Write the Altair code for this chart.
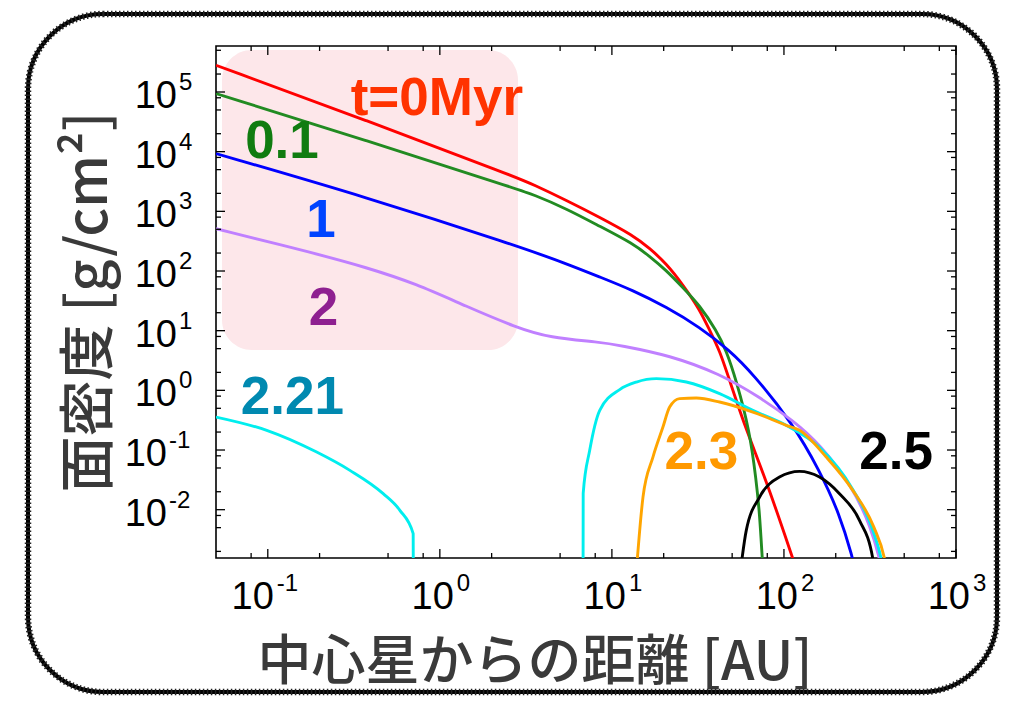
import altair as alt
import pandas as pd

# ---------------- data ----------------
# surface density curves (x: AU, y: g/cm^2)
t0_x = [0.05, 0.372, 2.76, 3.467, 5.44, 8.50, 13.26, 16.58, 20.72, 25.77, 32.35, 37.0, 42.27,
        48.3, 60.4, 78.9, 112.6, 118]
t0_y = [2.8e5, 3.36e4, 3760, 2838, 1530, 794, 396, 240, 133, 59.8, 22.8, 10.1, 4.68,
        1.47, 0.214, 0.031, 0.00153, 0.001]

t01_x = [0.05, 0.372, 2.76, 3.467, 5.44, 8.50, 13.26, 16.58, 20.72, 25.77, 32.35, 40.45, 46.2,
         52.8, 63.1, 69.0, 72.2, 74.8, 75.5]
t01_y = [9.4e4, 1.55e4, 2400, 1929, 1110, 561, 288, 176, 102.6, 53.3, 26.6, 10.1, 4.68,
         1.47, 0.214, 0.031, 0.0086, 0.00153, 0.001]

t1_x = [0.05, 0.372, 2.76, 5.44, 8.50, 13.26, 20.72, 32.35, 48.3, 65.96, 112.6, 160.9, 210.3,
        251.2, 258]
t1_y = [9290, 1740, 269, 133, 79.3, 47.5, 24.9, 11.5, 4.68, 1.905, 0.2765, 0.0456, 0.00857,
        0.00153, 0.001]

t2_x = [0.05, 0.19, 0.372, 0.726, 1.42, 2.76, 4.35, 8.5, 11.1, 21.7, 42.3, 72.2, 112.6, 160.9,
        251.2, 320, 359, 368]
t2_y = [513, 196, 115.3, 61.4, 25.6, 11.4, 7.6, 6.45, 5.68, 3.86, 1.9, 0.77, 0.314, 0.128,
        0.0239, 0.0051, 0.00153, 0.001]

t221a_x = [0.05, 0.0986, 0.1923, 0.300, 0.4686, 0.5857, 0.6998, 0.701]
t221a_y = [0.357, 0.2136, 0.0924, 0.0456, 0.01855, 0.00974, 0.00396, 0.001]

t221b_x = [6.80, 6.81, 7.43, 8.5, 11.1, 13.88, 18.13, 27.08, 42.27, 65.96, 103.1, 160.9, 251.2,
           324, 367, 378]
t221b_y = [0.001, 0.0188, 0.0987, 0.462, 1.03, 1.378, 1.571, 1.378, 0.88, 0.462, 0.259, 0.111,
           0.0219, 0.00505, 0.00153, 0.001]

t23_x = [13.9, 15.16, 17.32, 19.80, 21.66, 24.76, 30.95, 42.27, 65.96, 103.1, 123.1, 176.1,
         251.2, 333, 383.8, 395]
t23_y = [0.001, 0.01628, 0.0762, 0.2425, 0.525, 0.726, 0.743, 0.637, 0.433, 0.259, 0.2136,
         0.0762, 0.0211, 0.0051, 0.00153, 0.001]

t25_x = [56.0, 60.4, 72.2, 94.2, 123.1, 160.9, 210.3, 274.8, 328.2, 334]
t25_y = [0.001, 0.0045, 0.01628, 0.0352, 0.0439, 0.0352, 0.01855, 0.00662, 0.00153, 0.001]

series_names = ["t=0", "0.1", "1", "2", "2.21a", "2.21b", "2.3", "2.5"]
series_x = [t0_x, t01_x, t1_x, t2_x, t221a_x, t221b_x, t23_x, t25_x]
series_y = [t0_y, t01_y, t1_y, t2_y, t221a_y, t221b_y, t23_y, t25_y]
line_colors = ["#ff0000", "#228b22", "#0000ff", "#c080ff", "#00eeee", "#00eeee", "#ffa500", "#000000"]
line_interp = ["basis", "basis", "basis", "basis", "monotone", "monotone", "monotone", "monotone"]

# in-plot labels (anchor in data coordinates)
label_text = ["t=0Myr", "0.1", "1", "2", "2.21", "2.3", "2.5"]
label_x = [0.961, 0.1209, 0.2037, 0.2106, 0.139, 33.1, 449]
label_y = [4.07e4, 7.95e3, 371, 12.3, 0.407, 0.0487, 0.0487]
label_colors = ["#ff3300", "#107c10", "#0044ff", "#8e2090", "#0089b0", "#ff9900", "#000000"]

# axes
x_major = [0.1, 1, 10, 100, 1000]
x_exp = [-1, 0, 1, 2, 3]
x_minor = [0.08, 0.2, 0.5, 0.8, 2, 5, 8, 20, 50, 80, 200, 500, 800]
y_major = [1e-2, 1e-1, 1, 10, 100, 1e3, 1e4, 1e5]
y_exp = [-2, -1, 0, 1, 2, 3, 4, 5]
y_minor = [2e-3, 5e-3, 8e-3, 2e-2, 5e-2, 8e-2, 0.2, 0.5, 0.8, 2, 5, 8, 20, 50, 80,
           200, 500, 800, 2e3, 5e3, 8e3, 2e4, 5e4, 8e4, 2e5, 5e5]

x_title = "中心星からの距離 [AU]"
y_title = "面密度 [g/cm²]"

# ---------------- chart ----------------
W, H = 740, 512
XS = alt.Scale(type="log", domain=[0.05, 1000], nice=False, zero=False)
YS = alt.Scale(type="log", domain=[1.55e-3, 5.9e5], nice=False, zero=False)
one = pd.DataFrame({"a": [0]})
TICK_FONT = "Liberation Sans"

layers = []

# pink rounded box
layers.append(alt.Chart(one).mark_rect(cornerRadius=30, fill="#fde7ea").encode(
    x=alt.value(6), x2=alt.value(302), y=alt.value(4), y2=alt.value(304)))

# curves
for name, xs_, ys_, col, ip in zip(series_names, series_x, series_y, line_colors, line_interp):
    d = pd.DataFrame({"x": xs_, "y": ys_, "i": list(range(len(xs_)))})
    layers.append(alt.Chart(d).mark_line(strokeWidth=2.9, clip=True, interpolate=ip,
                                         color=col).encode(
        x=alt.X("x:Q", scale=XS, axis=None),
        y=alt.Y("y:Q", scale=YS, axis=None),
        order="i:Q"))

# ticks (inward, on all four sides)
xmaj = pd.DataFrame({"x": x_major})
xmin = pd.DataFrame({"x": x_minor})
ymaj = pd.DataFrame({"y": y_major})
ymin = pd.DataFrame({"y": y_minor})
for dfx, L in [(xmaj, 9), (xmin, 5)]:
    layers.append(alt.Chart(dfx).mark_rule(color="black", strokeWidth=1.3).encode(
        x=alt.X("x:Q", scale=XS, axis=None), y=alt.value(H), y2=alt.value(H - L)))
    layers.append(alt.Chart(dfx).mark_rule(color="black", strokeWidth=1.3).encode(
        x=alt.X("x:Q", scale=XS, axis=None), y=alt.value(0), y2=alt.value(L)))
for dfy, L in [(ymaj, 9), (ymin, 5)]:
    layers.append(alt.Chart(dfy).mark_rule(color="black", strokeWidth=1.3).encode(
        y=alt.Y("y:Q", scale=YS, axis=None), x=alt.value(0), x2=alt.value(L)))
    layers.append(alt.Chart(dfy).mark_rule(color="black", strokeWidth=1.3).encode(
        y=alt.Y("y:Q", scale=YS, axis=None), x=alt.value(W), x2=alt.value(W - L)))

# tick labels: "10" plus superscript exponent
xl = pd.DataFrame({"x": x_major, "e": x_exp})
yl = pd.DataFrame({"y": y_major, "e": y_exp})
for cond, dxb in [("datum.e >= 0", 14), ("datum.e < 0", 6)]:
    base = alt.Chart(xl).transform_filter(cond)
    layers.append(base.mark_text(font=TICK_FONT, fontSize=38, align="right",
                                 baseline="alphabetic", dx=dxb, color="black").encode(
        x=alt.X("x:Q", scale=XS, axis=None), y=alt.value(563), text=alt.value("10")))
    layers.append(base.mark_text(font=TICK_FONT, fontSize=24, align="left",
                                 baseline="alphabetic", dx=dxb + 3, color="black").encode(
        x=alt.X("x:Q", scale=XS, axis=None), y=alt.value(545), text="e:N"))
for cond, xb in [("datum.e >= 0", -39), ("datum.e < 0", -49)]:
    base = alt.Chart(yl).transform_filter(cond)
    layers.append(base.mark_text(font=TICK_FONT, fontSize=38, align="right",
                                 baseline="alphabetic", dy=16, color="black").encode(
        y=alt.Y("y:Q", scale=YS, axis=None), x=alt.value(xb), text=alt.value("10")))
    layers.append(base.mark_text(font=TICK_FONT, fontSize=24, align="left",
                                 baseline="alphabetic", dy=-2, color="black").encode(
        y=alt.Y("y:Q", scale=YS, axis=None), x=alt.value(xb + 2), text="e:N"))

# in-plot labels
ldf = pd.DataFrame({"label": label_text, "x": label_x, "y": label_y})
layers.append(alt.Chart(ldf).mark_text(font="Liberation Sans", fontWeight="bold", fontSize=53,
                                       align="center", baseline="alphabetic").encode(
    x=alt.X("x:Q", scale=XS, axis=None),
    y=alt.Y("y:Q", scale=YS, axis=None),
    text="label:N",
    color=alt.Color("label:N", scale=alt.Scale(domain=label_text, range=label_colors), legend=None)))

# axis titles
layers.append(alt.Chart(pd.DataFrame({"t": [x_title]})).mark_text(
    font="Noto Sans CJK JP", fontSize=54, fontWeight=500, color="#3a3a3a", align="center",
    baseline="alphabetic").encode(
    x=alt.value(319), y=alt.value(634), text="t:N"))
layers.append(alt.Chart(pd.DataFrame({"t": [y_title]})).mark_text(
    font="Noto Sans CJK JP", fontSize=56, fontWeight=500, color="#3a3a3a", align="center",
    baseline="middle", angle=270).encode(
    x=alt.value(-126), y=alt.value(256), text="t:N"))

# outer rounded frame (solid line plus a dashed overlay for a rough edge)
layers.append(alt.Chart(one).mark_rect(cornerRadius=75, fillOpacity=0, stroke="black",
                                       strokeWidth=4).encode(
    x=alt.value(-188), x2=alt.value(781), y=alt.value(-32), y2=alt.value(646)))
layers.append(alt.Chart(one).mark_rect(cornerRadius=75, fillOpacity=0, stroke="#222222",
                                       strokeWidth=6.5, strokeDash=[1.5, 2.5]).encode(
    x=alt.value(-188), x2=alt.value(781), y=alt.value(-32), y2=alt.value(646)))

chart = alt.layer(*layers).properties(
    width=W, height=H,
    autosize=alt.AutoSizeParams(type="none"),
    padding={"left": 208, "top": 38, "right": 45, "bottom": 138},
    background="white",
).configure_view(stroke="black", strokeWidth=1.6)

chart.save("out.html", embed_options={"renderer": "svg", "actions": False})
